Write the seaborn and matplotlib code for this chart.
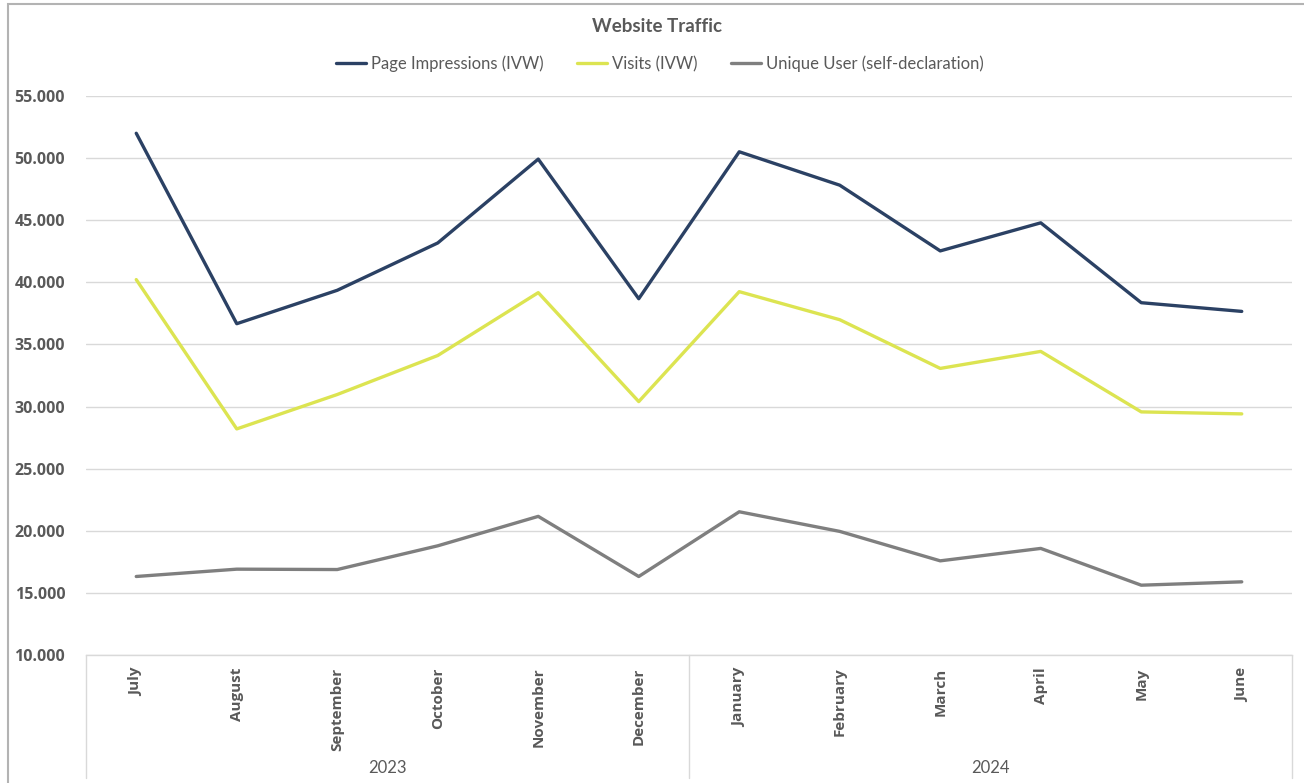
import pandas as pd
import matplotlib
matplotlib.use("Agg")
import matplotlib.pyplot as plt
import matplotlib.transforms as mtransforms
from matplotlib.patches import Rectangle
import seaborn as sns

# values
months = ["July", "August", "September", "October", "November", "December",
          "January", "February", "March", "April", "May", "June"]
years = ["2023", "2024"]
months_per_year = [6, 6]

page_impressions = [52000, 36670, 39360, 43170, 49920, 38680,
                    50510, 47820, 42530, 44790, 38360, 37660]
visits = [40220, 28200, 30970, 34110, 39170, 30400,
          39250, 36990, 33070, 34440, 29570, 29410]
unique_users = [16320, 16910, 16880, 18790, 21160, 16320,
                21530, 19950, 17580, 18580, 15620, 15890]

series = {
    "Page Impressions (IVW)": page_impressions,
    "Visits (IVW)": visits,
    "Unique User (self-declaration)": unique_users,
}
colors = {
    "Page Impressions (IVW)": "#2B4164",
    "Visits (IVW)": "#DCE451",
    "Unique User (self-declaration)": "#7F7F7F",
}

rows = []
for name, vals in series.items():
    for m, v in zip(months, vals):
        rows.append({"month": m, "value": v, "series": name})
df = pd.DataFrame(rows)

sns.set_style("white")
plt.rcParams["font.family"] = ["Lato", "DejaVu Sans"]
text_color = "#595959"
grid_color = "#D9D9D9"

fig = plt.figure(figsize=(13.04, 7.83), dpi=100)
ax = fig.add_axes([86 / 1304, 1 - 655 / 783, 1206 / 1304, 559 / 783])

sns.lineplot(data=df, x="month", y="value", hue="series", palette=colors,
             sort=False, linewidth=2.4, ax=ax, legend=True)

ax.set_xlim(-0.5, len(months) - 0.5)
ax.set_ylim(10000, 55000)
ax.set_yticks(range(10000, 55001, 5000))
ax.set_yticklabels([f"{v // 1000}.000" for v in range(10000, 55001, 5000)],
                   fontfamily="Open Sans", fontweight="bold",
                   fontsize=11.5, color=text_color)
ax.set_xticks(range(len(months)))
ax.set_xticklabels(months, rotation=90, fontfamily="Open Sans",
                   fontweight="bold", fontsize=11, color=text_color)
ax.tick_params(axis="x", length=0, pad=9)
ax.tick_params(axis="y", length=0, pad=15)
ax.set_xlabel("")
ax.set_ylabel("")
ax.yaxis.grid(True, color=grid_color, linewidth=1)
ax.set_axisbelow(True)
for side in ["left", "right", "top"]:
    ax.spines[side].set_visible(False)
ax.spines["bottom"].set_color(grid_color)
ax.spines["bottom"].set_linewidth(1)

# multi-level category axis: group separators and year labels
trans = mtransforms.blended_transform_factory(ax.transData, ax.transAxes)
depth = (778 - 655) / 559
start = -0.5
bounds = [start]
for n in months_per_year:
    bounds.append(bounds[-1] + n)
for b in bounds:
    ax.plot([b, b], [0, -depth], color=grid_color, linewidth=1,
            transform=trans, clip_on=False)
for i, yr in enumerate(years):
    mid = (bounds[i] + bounds[i + 1]) / 2
    ax.text(mid, -(768 - 655) / 559, yr, transform=trans, ha="center",
            va="center", fontsize=12, color=text_color)

handles, labels = ax.get_legend_handles_labels()
ax.legend_.remove()
fig.legend(handles, labels, loc="center", bbox_to_anchor=(0.506, 1 - 64 / 783),
           ncol=3, frameon=False, fontsize=12, handlelength=1.8,
           handletextpad=0.3, columnspacing=2.0, labelcolor=text_color)

fig.text(0.504, 1 - 27 / 783, "Website Traffic", ha="center", va="center",
         fontsize=13.5, fontweight="bold", color=text_color)

# chart frame
fig.patches.append(Rectangle((8 / 1304, -0.05), 1.2, 1 - 4 / 783 + 0.05,
                             transform=fig.transFigure, fill=False,
                             edgecolor="#B3B3B3", linewidth=1.5))

fig.savefig("out.png", dpi=100)
